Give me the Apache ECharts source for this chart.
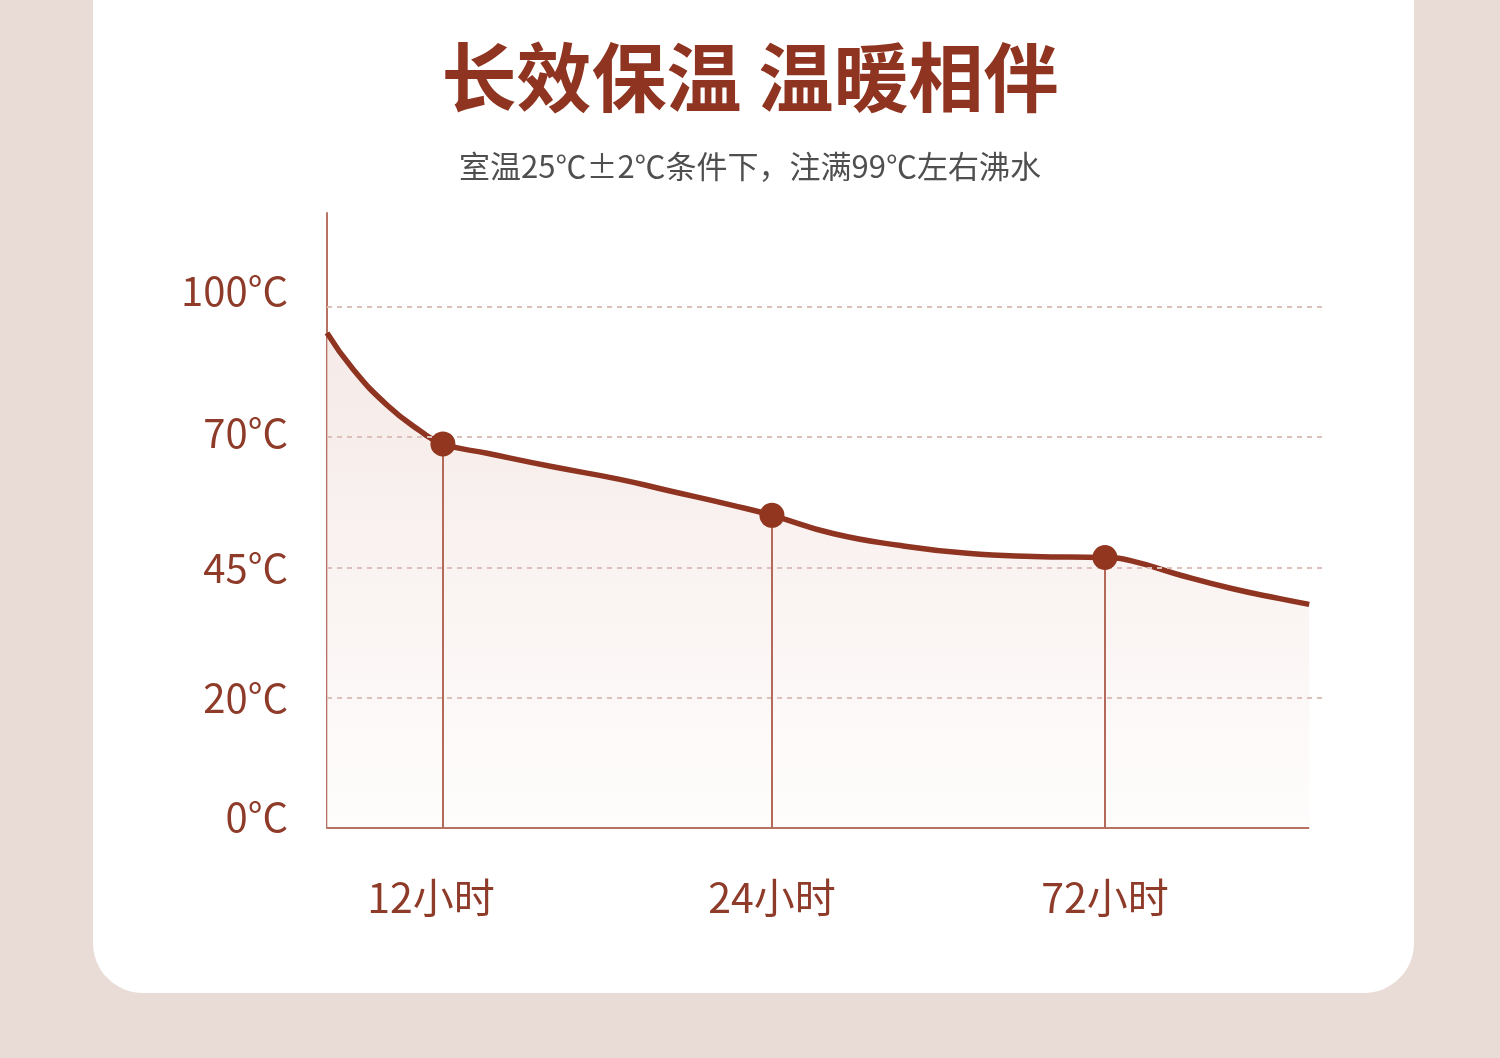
<!DOCTYPE html>
<html>
<head>
<meta charset="utf-8">
<script src="https://cdn.jsdelivr.net/npm/echarts@6/dist/echarts.min.js"></script>
<style>
html,body{margin:0;padding:0;background:#e9dcd7;}
#chart{width:1500px;height:1058px;}
</style>
</head>
<body>
<div id="chart"></div>
<script>
// ---- data ----
var titleText = '长效保温 温暖相伴';
var subtitleText = '室温25℃±2℃条件下，注满99℃左右沸水';

// y axis: evenly spaced (non-linear) temperature ticks
var tickTemps = [0, 20, 45, 70, 100];
var tickLabels = ['0°C', '20°C', '45°C', '70°C', '100°C'];

// x axis: position along the time axis (0..100 = full axis length)
var curvePos  = [0, 2.6, 6.1, 9.5, 11.8, 16.3, 23.0, 29.8, 34.6, 41.3, 45.3, 51.5, 58.4, 65.2, 71.9, 79.2, 81.8, 86.9, 92.0, 97.0, 100];
var curveTemp = [94.0, 85.8, 77.4, 71.4, 68.7, 66.9, 64.3, 61.9, 59.8, 56.9, 55.0, 51.5, 49.2, 47.7, 47.1, 46.9, 46.3, 43.5, 41.0, 39.0, 37.9];

var markerLabels = ['12小时', '24小时', '72小时'];
var markerPos  = [11.8, 45.3, 79.2];
var markerTemp = [68.7, 55.0, 46.9];

// ---- helpers ----
function toAxis(t) {
  for (var i = 0; i < tickTemps.length - 1; i++) {
    if (t <= tickTemps[i + 1] || i === tickTemps.length - 2) {
      return i + (t - tickTemps[i]) / (tickTemps[i + 1] - tickTemps[i]);
    }
  }
  return 0;
}
var tickIdx = tickTemps.map(function (_, i) { return i; });
var curveData = curvePos.map(function (p, i) { return [p, toAxis(curveTemp[i])]; });
var markerData = markerPos.map(function (p, i) { return [p, toAxis(markerTemp[i])]; });

var mainColor = '#8f3420';
var axisColor = '#b87262';
var labelColor = '#8f3b2a';
var gridColor = '#dcc1ba';
var fam = 'Noto Sans CJK SC';

var chart = echarts.init(document.getElementById('chart'));
chart.setOption({
  backgroundColor: '#e9dcd7',
  animation: false,
  graphic: [{
    type: 'rect', z: -10, silent: true,
    shape: { x: 93, y: -60, width: 1321, height: 1053, r: 50 },
    style: { fill: '#ffffff' }
  }],
  title: [{
    text: titleText, left: 'center', top: 35,
    textStyle: { fontFamily: fam, fontSize: 75, fontWeight: 'bold', color: '#8e3420' }
  }, {
    text: subtitleText, left: 'center', top: 146,
    textStyle: { fontFamily: fam, fontSize: 31, fontWeight: 'normal', color: '#4f4f4f' }
  }],
  grid: { left: 327, right: 178, top: 213, bottom: 230, containLabel: false },
  xAxis: {
    type: 'value', min: 0, max: 101.3,
    axisLine: { show: false }, axisTick: { show: false }, splitLine: { show: false },
    axisLabel: {
      customValues: markerPos,
      margin: 49,
      fontFamily: fam, fontSize: 41, color: labelColor,
      formatter: function (v) {
        for (var i = 0; i < markerPos.length; i++) {
          if (Math.abs(markerPos[i] - v) < 1e-6) return i === 0 ? '{l|' + markerLabels[i] + '}' : markerLabels[i];
        }
        return '';
      },
      rich: { l: { fontFamily: fam, fontSize: 41, color: labelColor, padding: [0, 24, 0, 0] } }
    }
  },
  yAxis: {
    type: 'value', min: 0, max: 4.72, interval: 1,
    axisLine: { show: true, lineStyle: { color: axisColor, width: 2 } },
    axisTick: { show: false }, splitLine: { show: false },
    axisLabel: {
      customValues: tickIdx,
      margin: 39,
      fontFamily: fam, fontSize: 40, color: labelColor,
      formatter: function (v) {
        var i = Math.round(v);
        if (Math.abs(i - v) > 1e-6 || i < 0 || i >= tickLabels.length) return '';
        var key = ['a', 'b', 'c', 'd', 'e'][i];
        return '{' + key + '|' + tickLabels[i] + '}';
      },
      rich: {
        a: { fontFamily: fam, fontSize: 40, color: labelColor, padding: [0, 0, 22, 0] },
        b: { fontFamily: fam, fontSize: 40, color: labelColor },
        c: { fontFamily: fam, fontSize: 40, color: labelColor },
        d: { fontFamily: fam, fontSize: 40, color: labelColor, padding: [0, 0, 8, 0] },
        e: { fontFamily: fam, fontSize: 40, color: labelColor, padding: [0, 0, 32, 0] }
      }
    }
  },
  series: [{
    type: 'line', name: 'curve', data: curveData,
    smooth: true, symbol: 'none', z: 3,
    lineStyle: { color: mainColor, width: 5.5 },
    areaStyle: {
      color: new echarts.graphic.LinearGradient(0, 0, 0, 1, [
        { offset: 0, color: '#f1e1dd' },
        { offset: 1, color: '#fefcfb' }
      ])
    },
    markLine: {
      silent: true, symbol: 'none', label: { show: false }, animation: false,
      data: tickIdx.slice(1).map(function (i) {
        return { yAxis: i, lineStyle: { color: gridColor, type: [5, 5], width: 2 } };
      }).concat([[
        { coord: [0, 0], lineStyle: { color: axisColor, type: 'solid', width: 2 } },
        { coord: [curvePos[curvePos.length - 1], 0] }
      ]])
    }
  }, {
    type: 'scatter', name: 'points', data: markerData, z: 5,
    symbol: 'circle', symbolSize: 25,
    itemStyle: { color: '#93361f', opacity: 1 },
    markLine: {
      silent: true, symbol: 'none', label: { show: false }, animation: false,
      lineStyle: { color: '#b46a5a', type: 'solid', width: 2 },
      data: markerData.map(function (d) {
        return [{ coord: [d[0], d[1]] }, { coord: [d[0], 0] }];
      })
    }
  }]
});
</script>
</body>
</html>
